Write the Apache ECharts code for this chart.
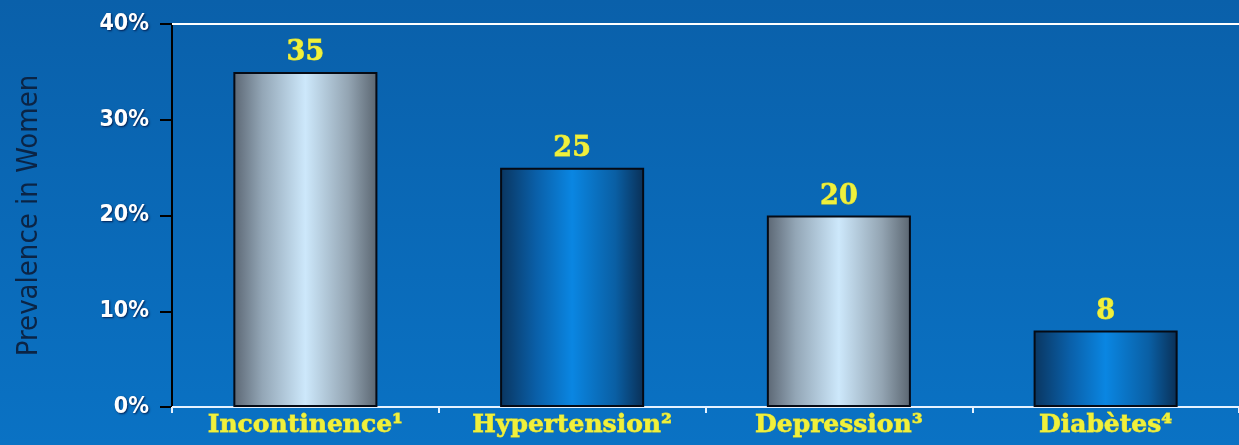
<!DOCTYPE html>
<html><head><meta charset="utf-8">
<script src="https://cdn.jsdelivr.net/npm/echarts@6/dist/echarts.min.js"></script>
<style>html,body{margin:0;padding:0;}#c{width:1239px;height:445px;}</style>
</head><body><div id="c"></div>
<script>
const categories = ['Incontinence¹', 'Hypertension²', 'Depression³', 'Diabètes⁴'];
const values = [35, 25, 20, 8];
const yTicks = [0, 10, 20, 30, 40];
const yName = 'Prevalence in Women';

const silver = new echarts.graphic.LinearGradient(0, 0, 1, 0, [
  {offset: 0, color: '#5b6673'}, {offset: 0.2, color: '#93a6b6'},
  {offset: 0.5, color: '#cde8fb'}, {offset: 0.8, color: '#93a4b2'},
  {offset: 1, color: '#5a6570'}]);
const blue = new echarts.graphic.LinearGradient(0, 0, 1, 0, [
  {offset: 0, color: '#0a355f'}, {offset: 0.25, color: '#0a5fa8'},
  {offset: 0.5, color: '#0a86e2'}, {offset: 0.8, color: '#0a5fa4'},
  {offset: 1, color: '#0a2f55'}]);

const sansC = '"DejaVu Sans Condensed", "Liberation Sans", sans-serif';
const chart = echarts.init(document.getElementById('c'));
chart.setOption({
  backgroundColor: new echarts.graphic.LinearGradient(0, 0, 0, 1, [
    {offset: 0, color: '#0a60aa'}, {offset: 1, color: '#0a72c4'}]),
  animation: false,
  grid: {left: 172, right: 0, top: 24, bottom: 38},
  xAxis: [{
    type: 'category', data: categories,
    axisLine: {lineStyle: {color: '#e6f2ff', width: 2}},
    axisTick: {show: true, length: 6, lineStyle: {color: '#e6f2ff', width: 2}},
    axisLabel: {color: '#f0f03c', fontFamily: 'DejaVu Serif', fontWeight: 'bold', fontSize: 25, margin: 6,
      textBorderColor: '#d8d830', textBorderWidth: 0.8}
  }, {
    type: 'category', data: categories, position: 'top',
    axisLine: {lineStyle: {color: '#ffffff', width: 2}},
    axisTick: {show: false}, axisLabel: {show: false}
  }],
  yAxis: {
    type: 'value', min: 0, max: 40, interval: 10,
    name: yName, nameLocation: 'middle', nameGap: 128, nameRotate: 90,
    nameTextStyle: {color: '#0b2445', fontFamily: sansC, fontSize: 29},
    axisLine: {show: true, lineStyle: {color: '#000000', width: 2}},
    axisTick: {show: true, length: 12, lineStyle: {color: '#000000', width: 2}},
    splitLine: {show: false},
    axisLabel: {
      color: '#ffffff', fontFamily: sansC, fontWeight: 'bold', fontSize: 23, margin: 23,
      textShadowColor: 'rgba(0,0,40,0.7)', textShadowBlur: 2, textShadowOffsetX: 1, textShadowOffsetY: 1,
      formatter: v => yTicks.includes(v) ? v + '%' : ''
    }
  },
  series: [{
    type: 'bar', barWidth: '54%',
    data: values.map((v, i) => ({value: v, itemStyle: {color: i % 2 === 0 ? silver : blue}})),
    itemStyle: {borderColor: '#050a14', borderWidth: 2},
    label: {show: true, position: 'top', distance: 5, color: '#f0f03c', fontFamily: 'DejaVu Serif',
      fontWeight: 'bold', fontSize: 27, textBorderColor: '#d8d830', textBorderWidth: 0.8}
  }]
});
</script></body></html>
